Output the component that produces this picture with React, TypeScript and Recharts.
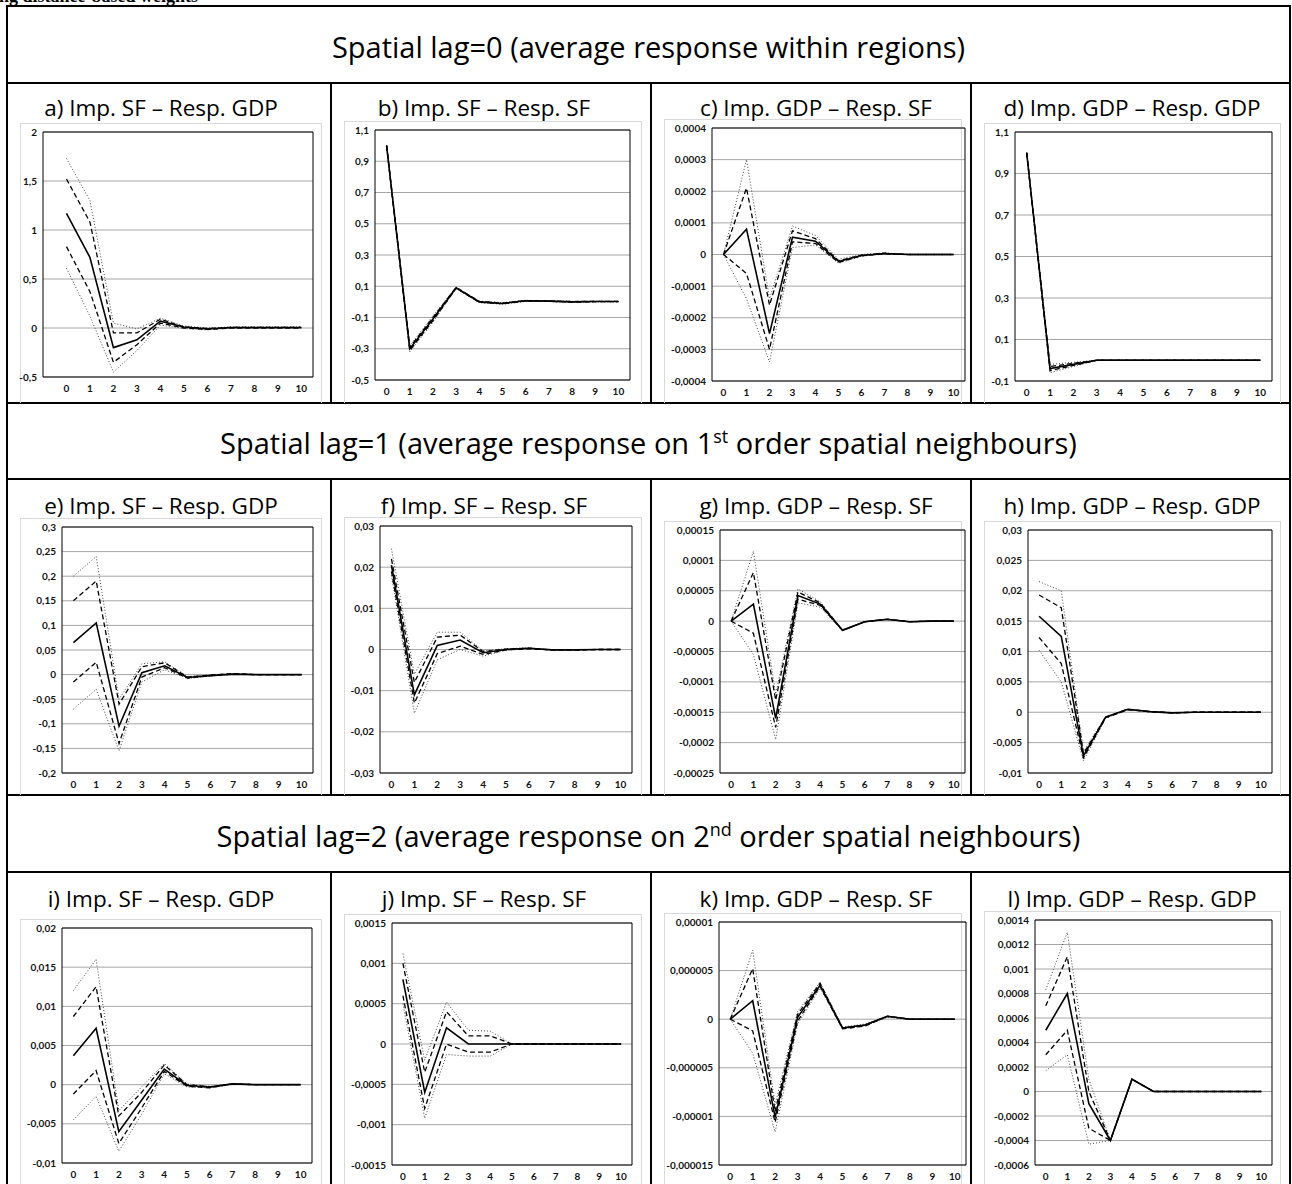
import React from 'react';
import { LineChart, Line, XAxis, YAxis, CartesianGrid, ReferenceArea } from 'recharts';

const horizons = [0, 1, 2, 3, 4, 5, 6, 7, 8, 9, 10];

// a) spatial lag 0, imp SF - resp GDP
const aOuterHi = [1.73, 1.3, 0.05, -0.01, 0.1, 0.02, 0.0, 0.01, 0.01, 0.01, 0.01];
const aInnerHi = [1.52, 1.08, -0.05, -0.05, 0.09, 0.01, -0.005, 0.005, 0.005, 0.005, 0.005];
const aMedian = [1.17, 0.72, -0.2, -0.12, 0.07, 0.01, -0.01, 0.005, 0.005, 0.005, 0.005];
const aInnerLo = [0.83, 0.37, -0.35, -0.17, 0.05, 0.0, -0.015, 0.0, 0.0, 0.0, 0.0];
const aOuterLo = [0.61, 0.12, -0.45, -0.23, 0.03, -0.005, -0.02, 0.0, 0.0, 0.0, 0.0];
const aTicks = [-0.5, 0, 0.5, 1, 1.5, 2];
const aLabels = ['-0,5', '0', '0,5', '1', '1,5', '2'];

// b) imp SF - resp SF
const bOuterHi = [1.0, -0.28, -0.09, 0.095, 0.005, -0.005, 0.01, 0.008, 0.003, 0.004, 0.004];
const bInnerHi = [1.0, -0.29, -0.1, 0.092, 0.003, -0.008, 0.008, 0.006, 0.002, 0.003, 0.003];
const bMedian = [1.0, -0.3, -0.11, 0.09, 0.0, -0.01, 0.007, 0.005, 0.0, 0.002, 0.002];
const bInnerLo = [1.0, -0.31, -0.12, 0.088, -0.003, -0.012, 0.005, 0.004, -0.002, 0.001, 0.001];
const bOuterLo = [1.0, -0.32, -0.13, 0.085, -0.005, -0.015, 0.003, 0.002, -0.003, 0.0, 0.0];
const bTicks = [-0.5, -0.3, -0.1, 0.1, 0.3, 0.5, 0.7, 0.9, 1.1];
const bLabels = ['-0,5', '-0,3', '-0,1', '0,1', '0,3', '0,5', '0,7', '0,9', '1,1'];

// c) imp GDP - resp SF
const cOuterHi = [0, 0.0003, -0.00014, 0.00009, 0.00006, -0.000015, 0.0, 0.000005, 0, 0, 0];
const cInnerHi = [0, 0.00021, -0.00016, 0.000075, 0.00005, -0.00002, -0.000002, 0.000004, 0, 0, 0];
const cMedian = [0, 0.00008, -0.00025, 0.000055, 0.000042, -0.000022, -0.000003, 0.000003, 0, 0, 0];
const cInnerLo = [0, -0.00006, -0.0003, 0.00004, 0.000035, -0.000025, -0.000004, 0.000002, 0, 0, 0];
const cOuterLo = [0, -0.00014, -0.00034, 0.000022, 0.00003, -0.000028, -0.000005, 0.000001, 0, 0, 0];
const cTicks = [-0.0004, -0.0003, -0.0002, -0.0001, 0, 0.0001, 0.0002, 0.0003, 0.0004];
const cLabels = ['-0,0004', '-0,0003', '-0,0002', '-0,0001', '0', '0,0001', '0,0002', '0,0003', '0,0004'];

// d) imp GDP - resp GDP
const dOuterHi = [1.0, -0.02, -0.01, 0, 0, 0, 0, 0, 0, 0, 0];
const dInnerHi = [1.0, -0.03, -0.015, 0, 0, 0, 0, 0, 0, 0, 0];
const dMedian = [1.0, -0.04, -0.02, 0, 0, 0, 0, 0, 0, 0, 0];
const dInnerLo = [1.0, -0.05, -0.025, 0, 0, 0, 0, 0, 0, 0, 0];
const dOuterLo = [1.0, -0.06, -0.03, 0, 0, 0, 0, 0, 0, 0, 0];
const dTicks = [-0.1, 0.1, 0.3, 0.5, 0.7, 0.9, 1.1];
const dLabels = ['-0,1', '0,1', '0,3', '0,5', '0,7', '0,9', '1,1'];

// e) spatial lag 1, imp SF - resp GDP
const eOuterHi = [0.2, 0.24, -0.05, 0.022, 0.026, -0.004, 0.0, 0.002, 0, 0, 0];
const eInnerHi = [0.15, 0.19, -0.06, 0.016, 0.024, -0.005, -0.001, 0.002, 0, 0, 0];
const eMedian = [0.065, 0.105, -0.105, 0.004, 0.018, -0.006, -0.002, 0.001, 0, 0, 0];
const eInnerLo = [-0.015, 0.025, -0.14, -0.005, 0.014, -0.007, -0.002, 0.001, 0, 0, 0];
const eOuterLo = [-0.07, -0.03, -0.155, -0.015, 0.01, -0.008, -0.003, 0.0, 0, 0, 0];
const eTicks = [-0.2, -0.15, -0.1, -0.05, 0, 0.05, 0.1, 0.15, 0.2, 0.25, 0.3];
const eLabels = ['-0,2', '-0,15', '-0,1', '-0,05', '0', '0,05', '0,1', '0,15', '0,2', '0,25', '0,3'];

// f) imp SF - resp SF
const fOuterHi = [0.0245, -0.006, 0.0042, 0.0042, -0.0003, 0.0002, 0.0004, -0.0001, -0.0001, 0, 0];
const fInnerHi = [0.022, -0.008, 0.003, 0.0035, -0.0005, 0.0001, 0.0003, -0.0001, -0.0001, 0, 0];
const fMedian = [0.0205, -0.011, 0.001, 0.0023, -0.0008, 0.0, 0.0003, -0.0001, -0.0001, 0, 0];
const fInnerLo = [0.019, -0.013, -0.001, 0.0008, -0.0012, -0.0001, 0.0002, -0.0001, -0.0001, 0, 0];
const fOuterLo = [0.018, -0.0155, -0.0025, 0.0, -0.0016, -0.0002, 0.0002, -0.0001, -0.0001, 0, 0];
const fTicks = [-0.03, -0.02, -0.01, 0, 0.01, 0.02, 0.03];
const fLabels = ['-0,03', '-0,02', '-0,01', '0', '0,01', '0,02', '0,03'];

// g) imp GDP - resp SF
const gOuterHi = [0, 0.000115, -0.00012, 0.000053, 0.000032, -0.000014, -0.000001, 0.000003, -0.000001, 0, 0];
const gInnerHi = [0, 0.00008, -0.00013, 0.000048, 0.00003, -0.000015, -0.000001, 0.000003, -0.000001, 0, 0];
const gMedian = [0, 0.000028, -0.00016, 0.000042, 0.000028, -0.000015, -0.000001, 0.000003, -0.000001, 0, 0];
const gInnerLo = [0, -0.00002, -0.000175, 0.000036, 0.000026, -0.000015, -0.000001, 0.000003, -0.000001, 0, 0];
const gOuterLo = [0, -0.000055, -0.000195, 0.00003, 0.000023, -0.000016, -0.000001, 0.000003, -0.000001, 0, 0];
const gTicks = [-0.00025, -0.0002, -0.00015, -0.0001, -0.00005, 0, 0.00005, 0.0001, 0.00015];
const gLabels = ['-0,00025', '-0,0002', '-0,00015', '-0,0001', '-0,00005', '0', '0,00005', '0,0001', '0,00015'];

// h) imp GDP - resp GDP
const hOuterHi = [0.0215, 0.02, -0.0065, -0.0007, 0.0005, 0.0001, -0.0001, 0, 0, 0, 0];
const hInnerHi = [0.0193, 0.0172, -0.0068, -0.0008, 0.0005, 0.0001, -0.0001, 0, 0, 0, 0];
const hMedian = [0.0158, 0.0125, -0.0072, -0.0008, 0.0005, 0.0001, -0.0001, 0, 0, 0, 0];
const hInnerLo = [0.0123, 0.008, -0.0075, -0.0009, 0.0004, 0.0001, -0.0001, 0, 0, 0, 0];
const hOuterLo = [0.0102, 0.005, -0.008, -0.001, 0.0004, 0.0001, -0.0001, 0, 0, 0, 0];
const hTicks = [-0.01, -0.005, 0, 0.005, 0.01, 0.015, 0.02, 0.025, 0.03];
const hLabels = ['-0,01', '-0,005', '0', '0,005', '0,01', '0,015', '0,02', '0,025', '0,03'];

// i) spatial lag 2, imp SF - resp GDP
const iOuterHi = [0.012, 0.016, -0.0033, -0.0003, 0.0027, 0.0001, -0.0002, 0.0001, 0, 0, 0];
const iInnerHi = [0.0087, 0.0125, -0.004, -0.001, 0.0025, 0.0, -0.0003, 0.0001, 0, 0, 0];
const iMedian = [0.0037, 0.0072, -0.006, -0.002, 0.002, -0.0001, -0.0003, 0.0001, 0, 0, 0];
const iInnerLo = [-0.0012, 0.0018, -0.0075, -0.003, 0.0017, -0.0002, -0.0004, 0.0001, 0, 0, 0];
const iOuterLo = [-0.0045, -0.0015, -0.0085, -0.0038, 0.0014, -0.0003, -0.0004, 0.0, 0, 0, 0];
const iTicks = [-0.01, -0.005, 0, 0.005, 0.01, 0.015, 0.02];
const iLabels = ['-0,01', '-0,005', '0', '0,005', '0,01', '0,015', '0,02'];

// j) imp SF - resp SF
const jOuterHi = [0.00112, -0.0002, 0.00052, 0.00017, 0.00016, 0, 0, 0, 0, 0, 0];
const jInnerHi = [0.001, -0.00035, 0.0004, 0.0001, 0.0001, 0, 0, 0, 0, 0, 0];
const jMedian = [0.0008, -0.0006, 0.0002, 0, 0, 0, 0, 0, 0, 0, 0];
const jInnerLo = [0.0006, -0.0008, 0.0, -0.0001, -0.0001, 0, 0, 0, 0, 0, 0];
const jOuterLo = [0.0005, -0.00092, -0.00013, -0.00015, -0.00015, 0, 0, 0, 0, 0, 0];
const jTicks = [-0.0015, -0.001, -0.0005, 0, 0.0005, 0.001, 0.0015];
const jLabels = ['-0,0015', '-0,001', '-0,0005', '0', '0,0005', '0,001', '0,0015'];

// k) imp GDP - resp SF
const kOuterHi = [0, 0.0000071, -0.0000088, 0.0000008, 0.0000038, -0.0000008, -0.0000005, 0.0000003, 0, 0, 0];
const kInnerHi = [0, 0.0000052, -0.0000095, 0.0000005, 0.0000037, -0.0000009, -0.0000006, 0.0000003, 0, 0, 0];
const kMedian = [0, 0.0000019, -0.0000101, 0.0000002, 0.0000035, -0.0000009, -0.0000006, 0.0000003, 0, 0, 0];
const kInnerLo = [0, -0.0000012, -0.0000106, -0.0000002, 0.0000034, -0.000001, -0.0000007, 0.0000003, 0, 0, 0];
const kOuterLo = [0, -0.0000035, -0.0000116, -0.0000005, 0.0000032, -0.000001, -0.0000007, 0.0000002, 0, 0, 0];
const kTicks = [-0.000015, -0.00001, -0.000005, 0, 0.000005, 0.00001];
const kLabels = ['-0,000015', '-0,00001', '-0,000005', '0', '0,000005', '0,00001'];

// l) imp GDP - resp GDP
const lOuterHi = [0.00083, 0.0013, 0.0001, -0.0004, 0.0001, 0, 0, 0, 0, 0, 0];
const lInnerHi = [0.0007, 0.0011, 0.0, -0.0004, 0.0001, 0, 0, 0, 0, 0, 0];
const lMedian = [0.0005, 0.0008, -0.0001, -0.0004, 0.0001, 0, 0, 0, 0, 0, 0];
const lInnerLo = [0.0003, 0.0005, -0.0003, -0.0004, 0.0001, 0, 0, 0, 0, 0, 0];
const lOuterLo = [0.00017, 0.0003, -0.00043, -0.0004, 0.0001, 0, 0, 0, 0, 0, 0];
const lTicks = [-0.0006, -0.0004, -0.0002, 0, 0.0002, 0.0004, 0.0006, 0.0008, 0.001, 0.0012, 0.0014];
const lLabels = ['-0,0006', '-0,0004', '-0,0002', '0', '0,0002', '0,0004', '0,0006', '0,0008', '0,001', '0,0012', '0,0014'];

const headers = [
  <>Spatial lag=0 (average response within regions)</>,
  <>Spatial lag=1 (average response on 1<sup style={{ fontSize: '0.62em' }}>st</sup> order spatial neighbours)</>,
  <>Spatial lag=2 (average response on 2<sup style={{ fontSize: '0.62em' }}>nd</sup> order spatial neighbours)</>,
];

// layout
const COLS = [
  { x0: 7, x1: 331, cx: 161 },
  { x0: 331, x1: 651, cx: 484 },
  { x0: 651, x1: 971, cx: 816 },
  { x0: 971, x1: 1290, cx: 1132 },
];
const ROWS = [
  { headTop: 6, top: 83, bottom: 403, titleY: 108 },
  { headTop: 403, top: 479, bottom: 795, titleY: 506 },
  { headTop: 795, top: 872, bottom: 1190, titleY: 899 },
];

interface PanelSpec {
  title: string;
  row: number;
  col: number;
  plot: [number, number, number, number]; // left, right, top, bottom
  xFrom: number;
  ticks: number[];
  labels: string[];
  outerHi: number[];
  innerHi: number[];
  median: number[];
  innerLo: number[];
  outerLo: number[];
}

const panels: PanelSpec[] = [
  { title: 'a) Imp. SF – Resp. GDP', row: 0, col: 0, plot: [43, 313, 132, 377], xFrom: -1, ticks: aTicks, labels: aLabels, outerHi: aOuterHi, innerHi: aInnerHi, median: aMedian, innerLo: aInnerLo, outerLo: aOuterLo },
  { title: 'b) Imp. SF – Resp. SF', row: 0, col: 1, plot: [375, 630, 130, 380], xFrom: -0.5, ticks: bTicks, labels: bLabels, outerHi: bOuterHi, innerHi: bInnerHi, median: bMedian, innerLo: bInnerLo, outerLo: bOuterLo },
  { title: 'c) Imp. GDP – Resp. SF', row: 0, col: 2, plot: [712, 965, 128, 381], xFrom: -0.5, ticks: cTicks, labels: cLabels, outerHi: cOuterHi, innerHi: cInnerHi, median: cMedian, innerLo: cInnerLo, outerLo: cOuterLo },
  { title: 'd) Imp. GDP – Resp. GDP', row: 0, col: 3, plot: [1015, 1272, 132, 381], xFrom: -0.5, ticks: dTicks, labels: dLabels, outerHi: dOuterHi, innerHi: dInnerHi, median: dMedian, innerLo: dInnerLo, outerLo: dOuterLo },
  { title: 'e) Imp. SF – Resp. GDP', row: 1, col: 0, plot: [62, 313, 527, 773], xFrom: -0.5, ticks: eTicks, labels: eLabels, outerHi: eOuterHi, innerHi: eInnerHi, median: eMedian, innerLo: eInnerLo, outerLo: eOuterLo },
  { title: 'f) Imp. SF – Resp. SF', row: 1, col: 1, plot: [380, 632, 526, 773], xFrom: -0.5, ticks: fTicks, labels: fLabels, outerHi: fOuterHi, innerHi: fInnerHi, median: fMedian, innerLo: fInnerLo, outerLo: fOuterLo },
  { title: 'g) Imp. GDP – Resp. SF', row: 1, col: 2, plot: [720, 965, 530, 773], xFrom: -0.5, ticks: gTicks, labels: gLabels, outerHi: gOuterHi, innerHi: gInnerHi, median: gMedian, innerLo: gInnerLo, outerLo: gOuterLo },
  { title: 'h) Imp. GDP – Resp. GDP', row: 1, col: 3, plot: [1028, 1272, 530, 773], xFrom: -0.5, ticks: hTicks, labels: hLabels, outerHi: hOuterHi, innerHi: hInnerHi, median: hMedian, innerLo: hInnerLo, outerLo: hOuterLo },
  { title: 'i) Imp. SF – Resp. GDP', row: 2, col: 0, plot: [62, 312, 928, 1163], xFrom: -0.5, ticks: iTicks, labels: iLabels, outerHi: iOuterHi, innerHi: iInnerHi, median: iMedian, innerLo: iInnerLo, outerLo: iOuterLo },
  { title: 'j) Imp. SF – Resp. SF', row: 2, col: 1, plot: [392, 632, 923, 1165], xFrom: -0.5, ticks: jTicks, labels: jLabels, outerHi: jOuterHi, innerHi: jInnerHi, median: jMedian, innerLo: jInnerLo, outerLo: jOuterLo },
  { title: 'k) Imp. GDP – Resp. SF', row: 2, col: 2, plot: [719, 966, 922, 1165], xFrom: -0.5, ticks: kTicks, labels: kLabels, outerHi: kOuterHi, innerHi: kInnerHi, median: kMedian, innerLo: kInnerLo, outerLo: kOuterLo },
  { title: 'l) Imp. GDP – Resp. GDP', row: 2, col: 3, plot: [1035, 1272, 920, 1165], xFrom: -0.5, ticks: lTicks, labels: lLabels, outerHi: lOuterHi, innerHi: lInnerHi, median: lMedian, innerLo: lInnerLo, outerLo: lOuterLo },
];

const lineStyles = [
  { key: 'outerLo', dash: '1 2', width: 1, color: '#444' },
  { key: 'outerHi', dash: '1 2', width: 1, color: '#444' },
  { key: 'innerLo', dash: '5 3', width: 1.3, color: '#000' },
  { key: 'innerHi', dash: '5 3', width: 1.3, color: '#000' },
  { key: 'median', dash: undefined, width: 1.6, color: '#000' },
];

const tickStyle = { fontSize: 10, fontWeight: 700, fill: '#111', fontFamily: 'Lato, sans-serif' };
const textFont = '"Open Sans", sans-serif';

function Panel({ p }: { p: PanelSpec }) {
  const col = COLS[p.col];
  const row = ROWS[p.row];
  const [pl, pr, pt, pb] = p.plot;
  const chartL = col.x0 + 4;
  const chartR = col.x1 - 4;
  const chartT = pt - 10;
  const chartB = pb + 28;
  const data = horizons.map((t, i) => ({
    t,
    outerHi: p.outerHi[i],
    innerHi: p.innerHi[i],
    median: p.median[i],
    innerLo: p.innerLo[i],
    outerLo: p.outerLo[i],
  }));
  const yMin = p.ticks[0];
  const yMax = p.ticks[p.ticks.length - 1];
  const fmt = (v: number) => {
    const idx = p.ticks.findIndex((t) => Math.abs(t - v) < Math.abs(yMax - yMin) * 1e-6);
    return idx >= 0 ? p.labels[idx] : '';
  };
  return (
    <>
      <div
        style={{
          position: 'absolute',
          left: col.x0 + 13,
          top: pt - 9,
          width: col.x1 - col.x0 - 22,
          height: Math.min(row.bottom, 1184) - (pt - 9),
          borderTop: '1px solid #d9d9d9',
          borderLeft: '1px solid #d9d9d9',
          borderRight: '1px solid #d9d9d9',
          boxSizing: 'border-box',
        }}
      />
      <div
        style={{
          position: 'absolute',
          left: col.cx - 150,
          width: 300,
          top: row.titleY - 12,
          height: 24,
          lineHeight: '24px',
          textAlign: 'center',
          fontSize: 22.5,
          fontFamily: textFont,
          whiteSpace: 'nowrap',
        }}
      >
        {p.title}
      </div>
      <div style={{ position: 'absolute', left: chartL, top: chartT }}>
        <LineChart
          width={chartR - chartL}
          height={chartB - chartT}
          data={data}
          margin={{ top: pt - chartT, right: chartR - pr, bottom: 0, left: 0 }}
        >
          <CartesianGrid vertical={false} stroke="#a6a6a6" strokeWidth={1} />
          <XAxis
            type="number"
            dataKey="t"
            domain={[p.xFrom, 10.5]}
            ticks={horizons}
            interval={0}
            height={chartB - pb}
            axisLine={false}
            tickLine={false}
            tickSize={4}
            tickMargin={4}
            tick={tickStyle}
          />
          <YAxis
            type="number"
            domain={[yMin, yMax]}
            ticks={p.ticks}
            interval={0}
            width={pl - chartL}
            axisLine={false}
            tickLine={false}
            tickSize={3}
            tickMargin={3}
            tickFormatter={fmt}
            tick={tickStyle}
            allowDataOverflow
          />
          <ReferenceArea x1={p.xFrom} x2={10.5} y1={yMin} y2={yMax} fill="none" stroke="#000" strokeWidth={1} ifOverflow="visible" />
          {lineStyles.map((s) => (
            <Line
              key={s.key}
              type="linear"
              dataKey={s.key}
              stroke={s.color}
              strokeWidth={s.width}
              strokeDasharray={s.dash}
              dot={false}
              activeDot={false}
              isAnimationActive={false}
            />
          ))}
        </LineChart>
      </div>
    </>
  );
}

const hLinesY = [6, 83, 403, 479, 795, 872];

export default function App() {
  return (
    <div
      style={{
        position: 'absolute',
        left: 0,
        top: 0,
        width: 1292,
        height: 1184,
        overflow: 'hidden',
        background: '#fff',
        fontFamily: textFont,
        color: '#000',
      }}
    >
      <div
        style={{
          position: 'absolute',
          left: -26,
          top: -13,
          fontFamily: '"Liberation Serif", serif',
          fontWeight: 700,
          fontSize: 18,
          lineHeight: '18px',
          whiteSpace: 'nowrap',
        }}
      >
        Using distance-based weights
      </div>
      {hLinesY.map((y) => (
        <div key={y} style={{ position: 'absolute', left: 6, top: y - 1, width: 1285, height: 2, background: '#000' }} />
      ))}
      <div style={{ position: 'absolute', left: 6, top: 5, width: 2, height: 1190, background: '#000' }} />
      <div style={{ position: 'absolute', left: 1289, top: 5, width: 2, height: 1190, background: '#000' }} />
      {ROWS.map((r, ri) =>
        [331, 651, 971].map((x) => (
          <div key={`${ri}-${x}`} style={{ position: 'absolute', left: x - 1, top: r.top, width: 2, height: r.bottom - r.top, background: '#000' }} />
        ))
      )}
      {ROWS.map((r, ri) => (
        <div
          key={`h${ri}`}
          style={{
            position: 'absolute',
            left: 7,
            width: 1283,
            top: r.headTop,
            height: r.top - r.headTop,
            display: 'flex',
            alignItems: 'center',
            justifyContent: 'center',
            fontSize: 29,
            whiteSpace: 'nowrap',
            paddingTop: 3,
            boxSizing: 'border-box',
          }}
        >
          <span>{headers[ri]}</span>
        </div>
      ))}
      {panels.map((p) => (
        <Panel key={p.title} p={p} />
      ))}
    </div>
  );
}
